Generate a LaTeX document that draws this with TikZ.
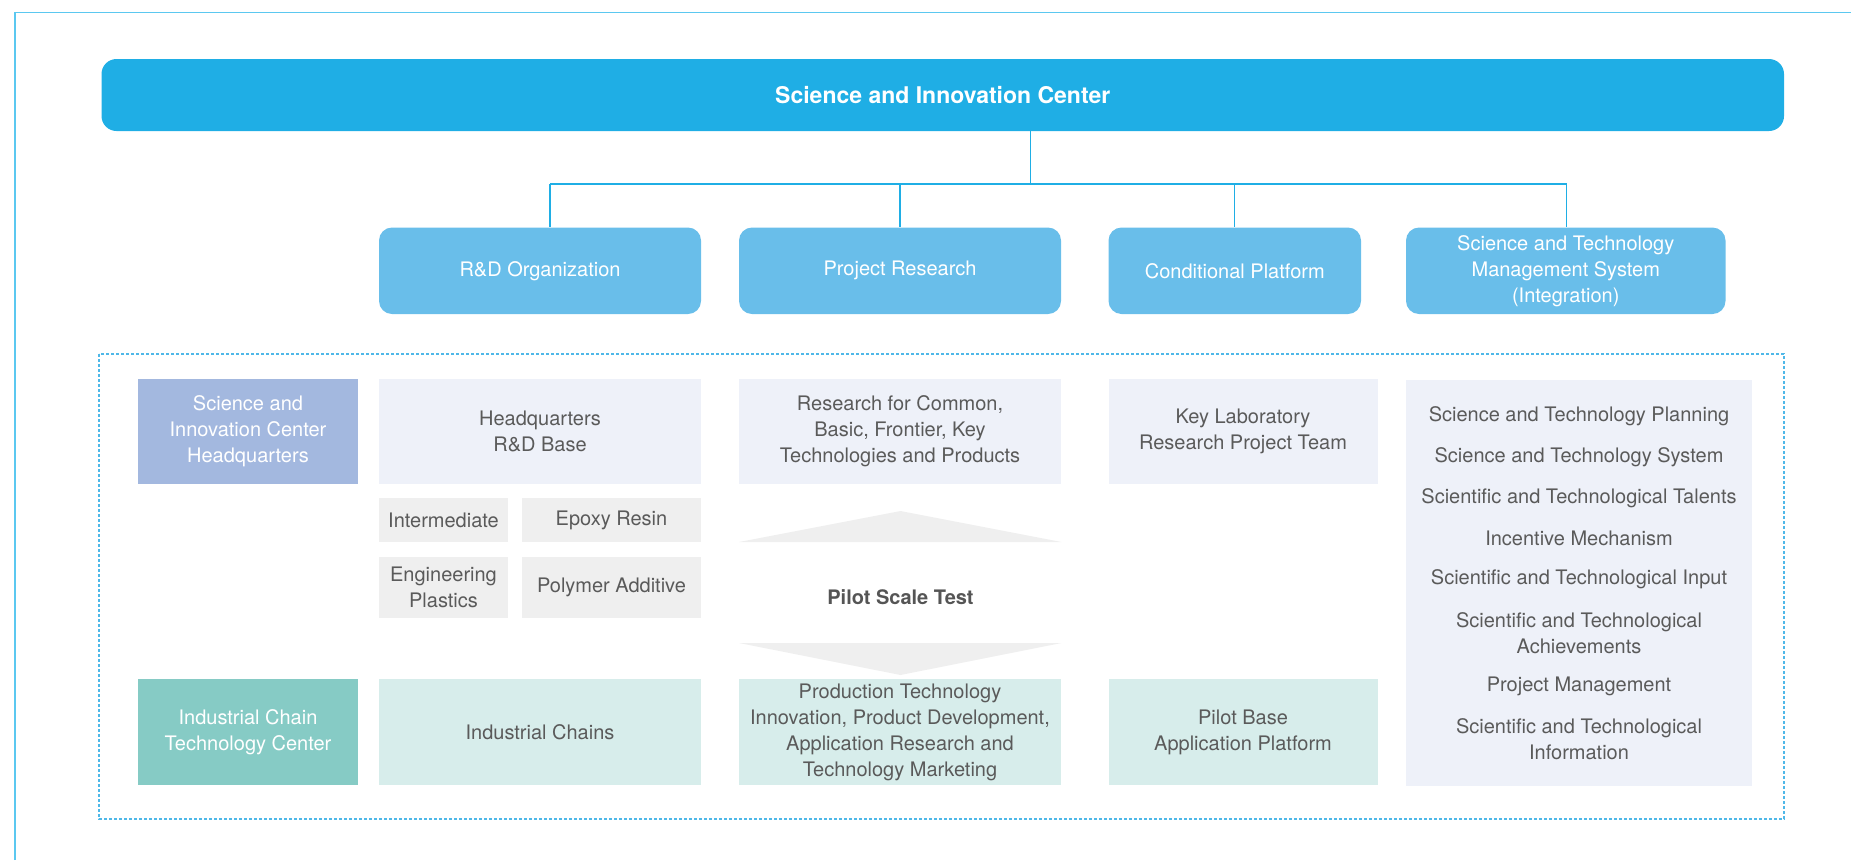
\documentclass[tikz,border=0pt]{standalone}
\usepackage{fontspec}
\setmainfont{TeX Gyre Heros}
\definecolor{topblue}{HTML}{1FAEE5}
\definecolor{midblue}{HTML}{69BEEA}
\definecolor{frameblue}{HTML}{5BC8F0}
\definecolor{dashblue}{HTML}{4FB8E8}
\definecolor{hqdark}{HTML}{A3B8DF}
\definecolor{hqlight}{HTML}{EEF1F9}
\definecolor{graybox}{HTML}{EFEFEF}
\definecolor{tealdark}{HTML}{86CBC5}
\definecolor{teallight}{HTML}{D7EDEB}
\definecolor{txtgray}{HTML}{5A5A5A}
\definecolor{pilotgray}{HTML}{555555}
\begin{document}
\begin{tikzpicture}[x=1pt,y=-1pt,
  box/.style={rectangle,inner sep=0pt,align=center,font=\fontsize{20}{26}\selectfont},
  darkbox/.style={box,fill=#1,text=white},
  lightbox/.style={box,fill=#1,text=txtgray},
  roundbox/.style={box,fill=midblue,text=white,rounded corners=13pt},
  conn/.style={draw=topblue,line width=1.3pt},
  listitem/.style={inner sep=0pt,align=center,text=txtgray,font=\fontsize{20}{26}\selectfont}]
\useasboundingbox (0,0) rectangle (1851,860);
% outer frame
\draw[frameblue,line width=1.5pt] (15,860) -- (15,12.5) -- (1851,12.5);
% dashed frame
\draw[dashblue,line width=1.3pt,dash pattern=on 3pt off 2pt] (99,354) rectangle (1784,819);
% top bar
\node[box,fill=topblue,text=white,rounded corners=15pt,minimum width=1682.5pt,minimum height=72pt,
  font=\fontsize{23}{28}\selectfont\bfseries] (top) at (942.75,95) {Science and Innovation Center};
% second row
\node[roundbox,minimum width=322pt,minimum height=86.5pt] (rd) at (540,270.75) {R\&D Organization};
\node[roundbox,minimum width=322pt,minimum height=86.5pt] (pr) at (900,270.75) {Project Research};
\node[roundbox,minimum width=252.5pt,minimum height=86.5pt] (cp) at (1234.75,270.75) {Conditional Platform};
\node[roundbox,minimum width=319.5pt,minimum height=86.5pt] (stm) at (1565.75,270.75) {Science and Technology\\Management System\\(Integration)};
% connectors
\coordinate (hub) at (1030.6,184);
\coordinate (b1) at (550,184);
\coordinate (b4) at (1566.5,184);
\draw[conn] (hub |- top.south) -- (hub);
\draw[conn] (b1) -- (b4);
\draw[conn] (b1) -- (b1 |- rd.north);
\draw[conn] (pr.north |- b1) -- (pr.north);
\draw[conn] (cp.north |- b1) -- (cp.north);
\draw[conn] (b4) -- (b4 |- stm.north);
% third row
\node[darkbox=hqdark,minimum width=220pt,minimum height=105pt] (hq) at (248,431.5) {Science and\\Innovation Center\\Headquarters};
\node[lightbox=hqlight,minimum width=322pt,minimum height=105pt] (hqb) at (540,431.5) {Headquarters\\R\&D Base};
\node[lightbox=graybox,minimum width=129pt,minimum height=44pt] (inter) at (443.5,520) {Intermediate};
\node[lightbox=graybox,minimum width=179pt,minimum height=44pt] (epoxy) at (611.5,520) {Epoxy Resin};
\node[lightbox=graybox,minimum width=129pt,minimum height=61pt] (eng) at (443.5,587.5) {Engineering\\Plastics};
\node[lightbox=graybox,minimum width=179pt,minimum height=61pt] (poly) at (611.5,587.5) {Polymer Additive};
\node[lightbox=hqlight,minimum width=322pt,minimum height=105pt] (rc) at (900,431.5) {Research for Common,\\Basic, Frontier, Key\\Technologies and Products};
\node[lightbox=hqlight,minimum width=269pt,minimum height=105pt] (kl) at (1243,431.5) {Key Laboratory\\Research Project Team};
% list box
\node[box,fill=hqlight,minimum width=346pt,minimum height=406pt] (list) at (1579,583) {};
\node[listitem] (l1) at (1579,416.7) {Science and Technology Planning};
\node[listitem] (l2) at (1579,457) {Science and Technology System};
\node[listitem] (l3) at (1579,497.7) {Scientific and Technological Talents};
\node[listitem] (l4) at (1579,538) {Incentive Mechanism};
\node[listitem] (l5) at (1579,578.7) {Scientific and Technological Input};
\node[listitem] (l6) at (1579,633) {Scientific and Technological\\Achievements};
\node[listitem] (l7) at (1579,686) {Project Management};
\node[listitem] (l8) at (1579,739) {Scientific and Technological\\Information};
% pilot arrows
\fill[graybox] (739,542) -- (900.5,511) -- (1061.5,542) -- cycle;
\fill[graybox] (739,643) -- (1061.5,643) -- (900.5,675) -- cycle;
\node[inner sep=0pt,text=pilotgray,font=\fontsize{20}{24}\selectfont\bfseries] (pilot) at (900.5,597) {Pilot Scale Test};
% bottom row
\node[darkbox=tealdark,minimum width=220pt,minimum height=106pt] (ic) at (248,732) {Industrial Chain\\Technology Center};
\node[lightbox=teallight,minimum width=322pt,minimum height=106pt] (ich) at (540,732) {Industrial Chains};
\node[lightbox=teallight,minimum width=322pt,minimum height=106pt] (ptech) at (900,732) {Production Technology\\Innovation, Product Development,\\Application Research and\\Technology Marketing};
\node[lightbox=teallight,minimum width=269pt,minimum height=106pt] (pb) at (1243,732) {Pilot Base\\Application Platform};
\end{tikzpicture}
\end{document}
